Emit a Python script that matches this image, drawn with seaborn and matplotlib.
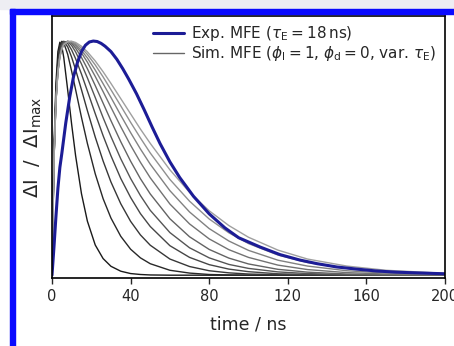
import matplotlib
matplotlib.use("Agg")
import matplotlib.pyplot as plt
from matplotlib.lines import Line2D
from matplotlib.patches import Rectangle
import pandas as pd
import seaborn as sns

# time axis (ns) shared by the simulated curves
t_sim = [0, 1, 2, 3, 4, 5, 6, 8, 10, 12, 15, 18, 22, 26, 30, 35, 40, 45, 50,
         60, 70, 80, 90, 100, 115, 130, 150, 170, 200]

# simulated MFE, one trace per tau_E (fast -> slow)
sim_a = [0, 0.541, 0.818, 0.955, 0.995, 0.978, 0.929, 0.790, 0.644, 0.511, 0.348, 0.231, 0.129, 0.071, 0.038,
         0.017, 0.007, 0.003, 0.001, 0, 0, 0, 0, 0, 0, 0, 0, 0, 0]
sim_b = [0, 0.519, 0.786, 0.921, 0.981, 0.999, 0.992, 0.943, 0.871, 0.793, 0.674, 0.563, 0.433, 0.327, 0.244,
         0.166, 0.111, 0.074, 0.049, 0.021, 0.009, 0.003, 0.001, 0, 0, 0, 0, 0, 0]
sim_c = [0, 0.508, 0.769, 0.903, 0.967, 0.994, 0.998, 0.975, 0.931, 0.878, 0.792, 0.703, 0.590, 0.488, 0.398,
         0.305, 0.230, 0.172, 0.128, 0.069, 0.037, 0.019, 0.010, 0.005, 0.002, 0.001, 0, 0, 0]
sim_d = [0, 0.500, 0.756, 0.888, 0.955, 0.987, 0.999, 0.990, 0.962, 0.925, 0.859, 0.787, 0.690, 0.596, 0.510,
         0.413, 0.332, 0.263, 0.208, 0.126, 0.076, 0.045, 0.026, 0.015, 0.006, 0.003, 0.001, 0, 0]
sim_e = [0, 0.495, 0.748, 0.879, 0.946, 0.980, 0.996, 0.998, 0.981, 0.954, 0.902, 0.843, 0.759, 0.673, 0.592,
         0.497, 0.413, 0.340, 0.277, 0.182, 0.117, 0.074, 0.046, 0.029, 0.014, 0.007, 0.002, 0.001, 0]
sim_f = [0, 0.491, 0.743, 0.873, 0.939, 0.973, 0.991, 0.999, 0.990, 0.970, 0.930, 0.882, 0.810, 0.735, 0.660,
         0.570, 0.487, 0.412, 0.347, 0.241, 0.164, 0.110, 0.073, 0.048, 0.025, 0.013, 0.005, 0.002, 0]
sim_g = [0, 0.490, 0.741, 0.870, 0.936, 0.970, 0.988, 0.999, 0.994, 0.980, 0.949, 0.910, 0.849, 0.784, 0.717,
         0.634, 0.555, 0.482, 0.416, 0.304, 0.219, 0.155, 0.109, 0.076, 0.043, 0.024, 0.011, 0.005, 0.001]
sim_h = [0, 0.489, 0.739, 0.868, 0.934, 0.968, 0.986, 0.998, 0.996, 0.985, 0.960, 0.928, 0.876, 0.818, 0.759,
         0.683, 0.609, 0.539, 0.474, 0.361, 0.270, 0.199, 0.146, 0.106, 0.064, 0.039, 0.019, 0.009, 0.003]
sim_i = [0, 0.488, 0.739, 0.867, 0.933, 0.967, 0.985, 0.998, 0.998, 0.990, 0.970, 0.943, 0.898, 0.847, 0.792,
         0.723, 0.653, 0.586, 0.522, 0.409, 0.316, 0.240, 0.181, 0.135, 0.086, 0.054, 0.029, 0.015, 0.006]
sim_j = [0, 0.488, 0.738, 0.866, 0.932, 0.966, 0.984, 0.997, 0.999, 0.994, 0.978, 0.954, 0.915, 0.869, 0.819,
         0.754, 0.689, 0.624, 0.563, 0.450, 0.354, 0.275, 0.212, 0.162, 0.107, 0.069, 0.039, 0.021, 0.008]
sim_curves = [sim_a, sim_b, sim_c, sim_d, sim_e, sim_f, sim_g, sim_h, sim_i, sim_j]

# experimental MFE (tau_E = 18 ns)
t_exp = [0, 1, 2, 3, 4, 5, 7, 9, 11, 13, 15, 17, 19, 21, 23, 25, 27, 30, 33, 36, 39, 43, 47, 51, 55,
         60, 65, 72, 80, 88, 95, 106, 116, 126, 135, 145, 155, 165, 175, 185, 200]
exp_mfe = [0, 0.12, 0.25, 0.37, 0.46, 0.52, 0.65, 0.76, 0.85, 0.91, 0.955, 0.982, 0.996, 1.0, 0.998,
           0.99, 0.978, 0.955, 0.922, 0.882, 0.838, 0.775, 0.705, 0.632, 0.562, 0.484, 0.417, 0.337, 0.262,
           0.202, 0.16, 0.12, 0.088, 0.065, 0.049, 0.035, 0.026, 0.018, 0.013, 0.010, 0.006]

rows = []
for k, vals in enumerate(sim_curves):
    for t, v in zip(t_sim, vals):
        rows.append({"t": t, "y": v, "run": k})
df_sim = pd.DataFrame(rows)
df_exp = pd.DataFrame({"t": t_exp, "y": exp_mfe})

sns.set_style("white")
plt.rcParams["font.family"] = ["DejaVu Sans"]
plt.rcParams["mathtext.fontset"] = "dejavusans"

fig = plt.figure(figsize=(4.54, 3.46), dpi=100)
# page decoration: grey strip on top, blue frame on top and left
W, H = 454, 346
fig.patches.append(Rectangle((0, 1 - 9 / H), 1, 9 / H, transform=fig.transFigure,
                             color="#eeeef3", zorder=0))
fig.patches.append(Rectangle((10 / W, 1 - 14 / H), 1, 5 / H, transform=fig.transFigure,
                             color="#0a0aff", zorder=0))
fig.patches.append(Rectangle((10 / W, 0), 5 / W, 1 - 9 / H, transform=fig.transFigure,
                             color="#0a0aff", zorder=0))
ax = fig.add_axes([52 / W, 1 - 278 / H, (445 - 52) / W, (278 - 16) / H])

# dark (fast) to light (slow)
greys = [(0.1 + 0.058 * k,) * 3 for k in range(10)]
sns.lineplot(data=df_sim, x="t", y="y", hue="run", palette=greys, linewidth=1.0,
             legend=False, ax=ax, estimator=None, sort=False)
sns.lineplot(data=df_exp, x="t", y="y", color="#1c1c96", linewidth=2.2, ax=ax,
             estimator=None, sort=False)

ax.set_xlim(0, 200)
ax.set_ylim(-0.012, 1.107)
ax.set_xticks([0, 40, 80, 120, 160, 200])
ax.set_yticks([])
ax.tick_params(axis="x", direction="out", length=4, width=1, labelsize=10.5, pad=4, bottom=True)
for s in ax.spines.values():
    s.set_color("black")
    s.set_linewidth(1.2)
ax.set_xlabel("time / ns", fontsize=12.5, labelpad=8)
ax.set_ylabel(r"$\Delta\mathrm{I}\ \ /\ \ \Delta\mathrm{I}_{\mathrm{max}}$", fontsize=14, labelpad=6)

handles = [Line2D([], [], color="#1c1c96", lw=2.2),
           Line2D([], [], color="#666666", lw=1.0)]
labels = [r"Exp. MFE ($\tau_{\mathrm{E}} = 18\,$ns)",
          r"Sim. MFE ($\phi_{\mathrm{l}} = 1$, $\phi_{\mathrm{d}} = 0$, var. $\tau_{\mathrm{E}}$)"]
ax.legend(handles, labels, loc="upper right", frameon=False, fontsize=11,
          handlelength=2.0, handletextpad=0.5, labelspacing=0.05, borderaxespad=0.15)

fig.savefig("out.png", dpi=100)
